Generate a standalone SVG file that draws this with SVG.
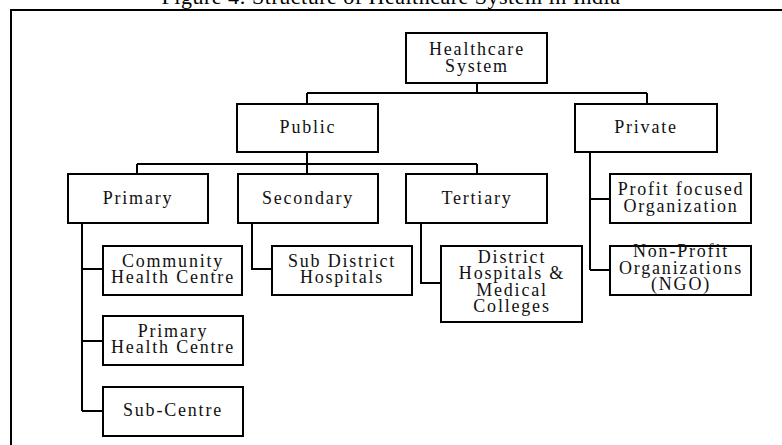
<svg xmlns="http://www.w3.org/2000/svg" width="782" height="445" viewBox="0 0 782 445">
<style>
.box{fill:#fff;stroke:#000;stroke-width:2}
.ln{fill:none;stroke:#000;stroke-width:2}
text{font-family:"Liberation Serif","Times New Roman",serif;font-size:18px;fill:#111;text-anchor:middle;letter-spacing:1.8px}
.title{font-size:22px;letter-spacing:0.5px;fill:#000}
</style>
<rect width="782" height="445" fill="#fff"/>
<text class="title" x="391" y="4">Figure 4: Structure of Healthcare System in India</text>
<path class="ln" d="M11,445 V10 H782"/>
<g id="connectors">
<path class="ln" d="M477,83 V93 M307,93 H647 M307,93 V104 M647,93 V104"/>
<path class="ln" d="M307,152 V164 M137,164 H477 M137,164 V174 M307,164 V174 M477,164 V174"/>
<path class="ln" d="M82,223 V411 M82,269 H103 M82,341 H103 M82,411 H103"/>
<path class="ln" d="M252,223 V269 H272"/>
<path class="ln" d="M421,223 V283 H441"/>
<path class="ln" d="M590,152 V270 M590,199 H610 M590,270 H610"/>
</g>
<g id="healthcare"><rect class="box" x="406" y="33" width="141" height="50"/><text x="477" y="55">Healthcare</text><text x="477" y="72">System</text></g>
<g id="public"><rect class="box" x="237" y="104" width="141" height="48"/><text x="308" y="133">Public</text></g>
<g id="private"><rect class="box" x="575" y="104" width="142" height="48"/><text x="646" y="133">Private</text></g>
<g id="primary"><rect class="box" x="68" y="174" width="140" height="49"/><text x="138" y="204">Primary</text></g>
<g id="secondary"><rect class="box" x="238" y="174" width="140" height="49"/><text x="308" y="204">Secondary</text></g>
<g id="tertiary"><rect class="box" x="406" y="174" width="141" height="49"/><text x="477" y="204">Tertiary</text></g>
<g id="chc"><rect class="box" x="103" y="246" width="139" height="49"/><text x="173" y="267">Community</text><text x="173" y="283">Health Centre</text></g>
<g id="phc"><rect class="box" x="103" y="316" width="140" height="49"/><text x="173" y="337">Primary</text><text x="173" y="353">Health Centre</text></g>
<g id="subcentre"><rect class="box" x="103" y="387" width="140" height="49"/><text x="173" y="416">Sub-Centre</text></g>
<g id="subdistrict"><rect class="box" x="272" y="246" width="140" height="49"/><text x="342" y="267">Sub District</text><text x="342" y="283">Hospitals</text></g>
<g id="district"><rect class="box" x="441" y="246" width="141" height="76"/><text x="512" y="263">District</text><text x="512" y="279">Hospitals &amp;</text><text x="512" y="296">Medical</text><text x="512" y="312">Colleges</text></g>
<g id="profit"><rect class="box" x="610" y="174" width="141" height="49"/><text x="681" y="195">Profit focused</text><text x="681" y="212">Organization</text></g>
<g id="ngo"><rect class="box" x="610" y="246" width="141" height="49"/><text x="681" y="257">Non-Profit</text><text x="681" y="274">Organizations</text><text x="681" y="290">(NGO)</text></g>
</svg>
